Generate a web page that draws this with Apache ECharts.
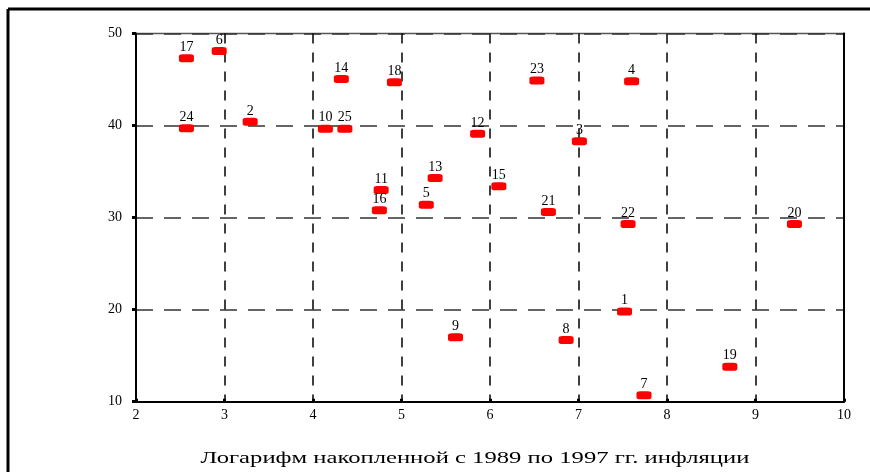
<!DOCTYPE html>
<html>
<head>
<meta charset="utf-8">
<script src="https://cdn.jsdelivr.net/npm/echarts@6/dist/echarts.min.js"></script>
<style>
  html, body { margin: 0; padding: 0; background: #fff; }
  #chart { width: 870px; height: 472px; }
</style>
</head>
<body>
<div id="chart"></div>
<script>
// point numbers and coordinates
const pointLabels = ['1', '2', '3', '4', '5', '6', '7', '8', '9', '10', '11', '12', '13',
  '14', '15', '16', '17', '18', '19', '20', '21', '22', '23', '24', '25'];
const inflationLog = [7.52, 3.29, 7.01, 7.60, 5.28, 2.94, 7.74, 6.86, 5.61, 4.14, 4.77, 5.86, 5.38,
  4.32, 6.10, 4.75, 2.57, 4.92, 8.71, 9.44, 6.66, 7.56, 6.53, 2.57, 4.36];
const yValues = [19.8, 40.4, 38.3, 44.8, 31.4, 48.1, 10.7, 16.7, 17.0, 39.65, 33.0, 39.1, 34.3,
  45.05, 33.4, 30.8, 47.3, 44.7, 13.8, 29.3, 30.6, 29.3, 44.9, 39.7, 39.65];

const xAxisTitle = 'Логарифм накопленной с 1989 по 1997 гг. инфляции';

const points = pointLabels.map((name, i) => ({ name: name, value: [inflationLog[i], yValues[i]] }));

const chart = echarts.init(document.getElementById('chart'));
const serif = '"Liberation Serif", "DejaVu Serif", serif';

chart.setOption({
  animation: false,
  backgroundColor: '#fff',
  grid: {
    left: 136, right: 26, top: 33.5, bottom: 70.3,
    show: true, borderColor: '#555', borderWidth: 1.5
  },
  xAxis: {
    type: 'value',
    min: 2, max: 10, interval: 1,
    axisLine: { show: true, onZero: false, lineStyle: { color: '#000', width: 2 } },
    axisTick: { show: true, inside: true, length: 3, lineStyle: { color: '#000', width: 3 } },
    axisLabel: { fontFamily: serif, fontSize: 14, color: '#000', margin: 7 },
    splitLine: { show: true, lineStyle: { color: '#000', width: 1.5, type: [10, 9] } }
  },
  yAxis: [{
    type: 'value',
    min: 10, max: 50, interval: 10,
    axisLine: { show: true, onZero: false, lineStyle: { color: '#000', width: 2 } },
    axisTick: { show: true, length: 4, lineStyle: { color: '#000', width: 3 } },
    axisLabel: { fontFamily: serif, fontSize: 14, color: '#000', margin: 14 },
    splitLine: { show: true, lineStyle: { color: '#333', width: 1.5, type: [17, 11] } }
  }, {
    type: 'value',
    position: 'right',
    min: 10, max: 50, interval: 10,
    axisLine: { show: true, onZero: false, lineStyle: { color: '#000', width: 2 } },
    axisTick: { show: false },
    axisLabel: { show: false },
    splitLine: { show: false }
  }],
  series: [{
    type: 'scatter',
    data: points,
    symbol: 'roundRect',
    symbolSize: [15, 8],
    itemStyle: { color: '#ff0000', opacity: 1 },
    label: {
      show: true,
      position: 'top',
      distance: 0,
      formatter: '{b}',
      fontFamily: serif,
      fontSize: 14,
      color: '#000'
    }
  }],
  graphic: [
    { type: 'line', shape: { x1: 8, y1: 9, x2: 870, y2: 9 }, style: { stroke: '#000', lineWidth: 3 } },
    { type: 'line', shape: { x1: 8, y1: 9, x2: 8, y2: 472 }, style: { stroke: '#000', lineWidth: 3 } },
    // axis title, stretched horizontally like the source scan
    {
      type: 'text', x: 475, y: 459, scaleX: 1.45,
      style: {
        text: xAxisTitle, fontFamily: serif, fontSize: 17, fill: '#000',
        align: 'center', verticalAlign: 'middle'
      }
    }
  ]
});
</script>
</body>
</html>
